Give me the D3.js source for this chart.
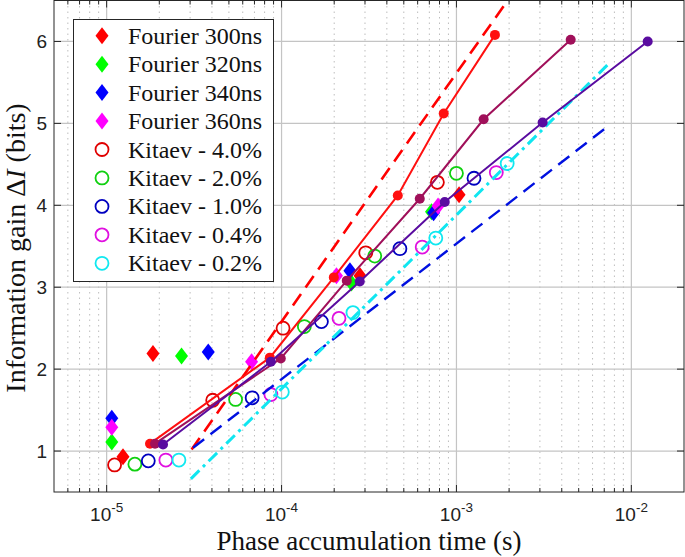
<!DOCTYPE html>
<html><head><meta charset="utf-8">
<script src="https://cdn.jsdelivr.net/npm/d3@7"></script>
<style>body{margin:0;background:#fff} svg{display:block}</style>
</head><body><svg id="c" width="685" height="557"></svg>
<script>
// ---------- data ----------
const fourierNames = ["Fourier 300ns","Fourier 320ns","Fourier 340ns","Fourier 360ns"];
const fourier300 = [[1.24e-5,0.93],[1.84e-5,2.19],[2.81e-4,3.14],[1.035e-3,4.13]];
const fourier320 = [[1.07e-5,1.11],[2.68e-5,2.16],[2.51e-4,3.05],[7.2e-4,3.92]];
const fourier340 = [[1.07e-5,1.40],[3.81e-5,2.21],[2.46e-4,3.20],[7.4e-4,3.91]];
const fourier360 = [[1.07e-5,1.29],[6.74e-5,2.09],[2.06e-4,3.14],[7.85e-4,3.99]];

const kitaevNames = ["Kitaev - 4.0%","Kitaev - 2.0%","Kitaev - 1.0%","Kitaev - 0.4%","Kitaev - 0.2%"];
const kitaev40 = [[1.11e-5,0.83],[4.04e-5,1.62],[1.02e-4,2.50],[3.03e-4,3.42],[7.78e-4,4.28]];
const kitaev20 = [[1.45e-5,0.84],[5.46e-5,1.63],[1.35e-4,2.52],[3.41e-4,3.38],[1.0e-3,4.39]];
const kitaev10 = [[1.73e-5,0.88],[6.79e-5,1.65],[1.69e-4,2.58],[4.75e-4,3.47],[1.26e-3,4.33]];
const kitaev04 = [[2.18e-5,0.89],[8.69e-5,1.69],[2.13e-4,2.62],[6.37e-4,3.49],[1.69e-3,4.40]];
const kitaev02 = [[2.59e-5,0.89],[1.01e-4,1.72],[2.56e-4,2.69],[7.62e-4,3.60],[1.95e-3,4.51]];

const lineRed    = [[1.77e-5,1.09],[8.57e-5,2.14],[1.99e-4,3.12],[4.62e-4,4.12],[8.46e-4,5.12],[1.66e-3,6.08]];
const lineMaroon = [[1.89e-5,1.09],[9.9e-5,2.13],[2.36e-4,3.08],[6.17e-4,4.08],[1.43e-3,5.05],[4.5e-3,6.02]];
const lineIndigo = [[2.1e-5,1.08],[8.69e-5,2.09],[2.8e-4,3.07],[8.57e-4,4.04],[3.11e-3,5.01],[1.24e-2,6.00]];

const fitRedDashed  = [[3.06e-5,1.02],[1.96e-3,6.5]];
const fitBlueDashed = [[3.12e-5,1.04],[7.1e-3,4.94]];
const fitCyanDashDot= [[3.03e-5,0.66],[7.6e-3,5.75]];

const xTickExponents = [-5,-4,-3,-2];
const yTicks = [1,2,3,4,5,6];
const xLabel = "Phase accumulation time (s)";

// ---------- styles ----------
const fourierColors = ["#ff0000","#00ff00","#0000ff","#ff00ff"];
const kitaevColors  = ["#e00000","#10d010","#0000c0","#e010e0","#10e8f0"];
const lineColors = ["#ff1010","#a0105a","#5a0ca0"];

const svg = d3.select("#c");
const L=54, R=684, T=0.5, B=492;
const x = d3.scaleLog().domain([5e-6,2e-2]).range([L,R]);
const y = d3.scaleLinear().domain([0.5,6.5]).range([B,T]);

const defs = svg.append("defs");
defs.append("clipPath").attr("id","clip").append("rect")
  .attr("x",L).attr("y",T).attr("width",R-L).attr("height",B-T);

// grid
const minor = [];
for (let e=-6;e<=-2;e++) for (let m=2;m<=9;m++){ const v=m*Math.pow(10,e); if(v>5e-6 && v<2e-2) minor.push(v);}
const major = xTickExponents.map(e=>Math.pow(10,e));
const g = svg.append("g");
g.selectAll(".mg").data(minor).enter().append("line")
  .attr("x1",d=>x(d)).attr("x2",d=>x(d)).attr("y1",T).attr("y2",B)
  .attr("stroke","#bdbdbd").attr("stroke-width",1).attr("stroke-dasharray","1.5,4");
g.selectAll(".Mg").data(major).enter().append("line")
  .attr("x1",d=>x(d)).attr("x2",d=>x(d)).attr("y1",T).attr("y2",B)
  .attr("stroke","#c4c4c4").attr("stroke-width",1.2);
g.selectAll(".yg").data(yTicks).enter().append("line")
  .attr("x1",L).attr("x2",R).attr("y1",d=>y(d)).attr("y2",d=>y(d))
  .attr("stroke","#c4c4c4").attr("stroke-width",1.2);

// ticks (inward, all sides)
const tk = svg.append("g").attr("stroke","#262626").attr("stroke-width",1);
major.forEach(v=>{
  tk.append("line").attr("x1",x(v)).attr("x2",x(v)).attr("y1",B).attr("y2",B-7);
  tk.append("line").attr("x1",x(v)).attr("x2",x(v)).attr("y1",T).attr("y2",T+7);
});
minor.forEach(v=>{
  tk.append("line").attr("x1",x(v)).attr("x2",x(v)).attr("y1",B).attr("y2",B-4);
  tk.append("line").attr("x1",x(v)).attr("x2",x(v)).attr("y1",T).attr("y2",T+4);
});
yTicks.forEach(v=>{
  tk.append("line").attr("x1",L).attr("x2",L+7).attr("y1",y(v)).attr("y2",y(v));
  tk.append("line").attr("x1",R).attr("x2",R-7).attr("y1",y(v)).attr("y2",y(v));
});
svg.append("rect").attr("x",L).attr("y",T).attr("width",R-L).attr("height",B-T)
  .attr("fill","none").attr("stroke","#262626").attr("stroke-width",1);

// tick labels
const sans = "Liberation Sans, Arial, sans-serif";
xTickExponents.forEach(e=>{
  const t = svg.append("text").attr("x",x(Math.pow(10,e))).attr("y",521)
    .attr("text-anchor","middle").attr("font-family",sans).attr("font-size",19).attr("fill","#222");
  t.append("tspan").text("10");
  t.append("tspan").attr("dy",-9).attr("font-size",13.5).text(String(e));
});
yTicks.forEach(v=>{
  svg.append("text").attr("x",47).attr("y",y(v)+7).attr("text-anchor","end")
    .attr("font-family",sans).attr("font-size",19).attr("fill","#222").text(v);
});

// axis labels
const serif = "Liberation Serif, Times New Roman, serif";
svg.append("text").attr("x",369).attr("y",550).attr("text-anchor","middle")
  .attr("font-family",serif).attr("font-size",27).attr("fill","#111").text(xLabel);
const yl = svg.append("text").attr("transform","translate(25,248) rotate(-90)")
  .attr("text-anchor","middle").attr("font-family",serif).attr("font-size",28).attr("fill","#111");
yl.append("tspan").text("Information gain \u0394");
yl.append("tspan").attr("font-style","italic").text("I");
yl.append("tspan").text(" (bits)");

// ---------- marks ----------
const plot = svg.append("g").attr("clip-path","url(#clip)");
const diamond = (cx,cy,w,h)=>`M${cx},${cy-h/2}L${cx+w/2},${cy}L${cx},${cy+h/2}L${cx-w/2},${cy}Z`;

[fourier300,fourier320,fourier340,fourier360].forEach((s,i)=>{
  plot.selectAll(null).data(s).enter().append("path")
    .attr("d",d=>diamond(x(d[0]),y(d[1]),13,17)).attr("fill",fourierColors[i]);
});
[kitaev40,kitaev20,kitaev10,kitaev04,kitaev02].forEach((s,i)=>{
  plot.selectAll(null).data(s).enter().append("circle")
    .attr("cx",d=>x(d[0])).attr("cy",d=>y(d[1])).attr("r",6.5)
    .attr("fill","none").attr("stroke",kitaevColors[i]).attr("stroke-width",1.8);
});

const ln = d3.line().x(d=>x(d[0])).y(d=>y(d[1]));
plot.append("path").attr("d",ln(fitRedDashed)).attr("fill","none")
  .attr("stroke","#ff0000").attr("stroke-width",2.6).attr("stroke-dasharray","14,8");
plot.append("path").attr("d",ln(fitBlueDashed)).attr("fill","none")
  .attr("stroke","#0010e0").attr("stroke-width",2.4).attr("stroke-dasharray","14,8");
plot.append("path").attr("d",ln(fitCyanDashDot)).attr("fill","none")
  .attr("stroke","#10e6f0").attr("stroke-width",3).attr("stroke-dasharray","12,5,3,5");

[lineRed,lineMaroon,lineIndigo].forEach((s,i)=>{
  plot.append("path").attr("d",ln(s)).attr("fill","none")
    .attr("stroke",lineColors[i]).attr("stroke-width",2);
  plot.selectAll(null).data(s).enter().append("circle")
    .attr("cx",d=>x(d[0])).attr("cy",d=>y(d[1])).attr("r",5).attr("fill",lineColors[i]);
});

// ---------- legend ----------
const lg = svg.append("g");
lg.append("rect").attr("x",73.5).attr("y",19.5).attr("width",200).attr("height",262)
  .attr("fill","#fff").attr("stroke","#262626").attr("stroke-width",1);
const rowY = i=>35.7+i*28.45;
fourierNames.forEach((n,i)=>{
  lg.append("path").attr("d",diamond(102,rowY(i),13,17)).attr("fill",fourierColors[i]);
  lg.append("text").attr("x",128).attr("y",rowY(i)+8).attr("font-family",serif)
    .attr("font-size",24).attr("fill","#111").text(n);
});
kitaevNames.forEach((n,j)=>{
  const i=j+4;
  lg.append("circle").attr("cx",102).attr("cy",rowY(i)).attr("r",6.5).attr("fill","none")
    .attr("stroke",kitaevColors[j]).attr("stroke-width",1.8);
  lg.append("text").attr("x",128).attr("y",rowY(i)+8).attr("font-family",serif)
    .attr("font-size",24).attr("fill","#111").text(n);
});
</script></body></html>
